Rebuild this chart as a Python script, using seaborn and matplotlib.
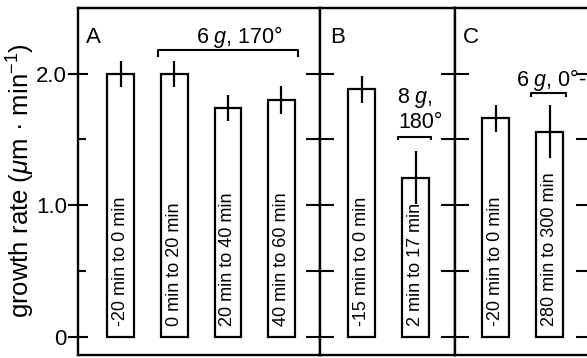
import matplotlib
matplotlib.use('Agg')
import matplotlib.pyplot as plt
import seaborn as sns
import pandas as pd
from matplotlib.ticker import FixedLocator, FixedFormatter, NullFormatter

sns.set_style('ticks')
plt.rcParams['font.family'] = ['Liberation Sans', 'DejaVu Sans']
plt.rcParams['mathtext.fontset'] = 'custom'
plt.rcParams['mathtext.rm'] = 'Liberation Sans'
plt.rcParams['mathtext.it'] = 'Liberation Sans:italic'
plt.rcParams['mathtext.sf'] = 'Liberation Sans'
plt.rcParams['mathtext.bf'] = 'Liberation Sans:bold'
for k in ('axes.edgecolor', 'xtick.color', 'ytick.color', 'text.color', 'axes.labelcolor'):
    plt.rcParams[k] = 'black'

# ---- data ----
labels_A = ['-20 min to 0 min', '0 min to 20 min', '20 min to 40 min', '40 min to 60 min']
values_A = [2.00, 2.00, 1.74, 1.80]
err_A = [0.10, 0.10, 0.10, 0.11]

labels_B = ['-15 min to 0 min', '2 min to 17 min']
values_B = [1.88, 1.21]
err_B = [0.10, 0.20]

labels_C = ['-20 min to 0 min', '280 min to 300 min']
values_C = [1.66, 1.56]
err_C = [0.10, 0.20]

yticks_major = [0, 1.0, 2.0]
ytick_labels = ['0', '1.0', '2.0']
yticks_minor = [0.5, 1.5]

W, H = 587, 358
fig = plt.figure(figsize=(W / 100, H / 100), dpi=100)


def px_axes(x0, x1, y0=8, y1=355):
    return fig.add_axes([x0 / W, 1 - y1 / H, (x1 - x0) / W, (y1 - y0) / H])


axA = px_axes(78, 320)
axB = px_axes(320, 455)
axC = px_axes(455, 590)


def draw(ax, labels, values, errs, xlim):
    df = pd.DataFrame({'period': labels, 'rate': values})
    sns.barplot(data=df, x='period', y='rate', ax=ax, width=0.5, color='white',
                edgecolor='black', linewidth=1.6, saturation=1, errorbar=None)
    ax.errorbar(range(len(values)), values, yerr=errs, fmt='none', ecolor='black',
                elinewidth=1.6, capsize=0, zorder=5)
    for i, lab in enumerate(labels):
        ax.text(i, 0.08, lab, rotation=90, ha='center', va='bottom', fontsize=13, zorder=6)
    ax.set_xlim(xlim)
    ax.set_ylim(-0.14, 2.5)
    ax.set_xticks([])
    ax.set_xlabel('')
    ax.set_ylabel('')
    for s in ax.spines.values():
        s.set_visible(True)
        s.set_linewidth(1.7)
        s.set_color('black')
    ax.yaxis.set_major_locator(FixedLocator(yticks_major))
    ax.yaxis.set_minor_locator(FixedLocator(yticks_minor))


draw(axA, labels_A, values_A, err_A, (-0.8, 3.72))
draw(axB, labels_B, values_B, err_B, (-0.77, 1.73))
draw(axC, labels_C, values_C, err_C, (-0.76, 1.75))

# ticks
axA.yaxis.set_major_formatter(FixedFormatter(ytick_labels))
axA.tick_params(axis='y', which='major', direction='inout', length=14, width=1.5,
                left=True, right=False, labelsize=16, pad=1, colors='black')
axA.tick_params(axis='y', which='minor', direction='in', length=6, width=1.5,
                left=True, right=False, colors='black')
for ax, right in ((axB, False), (axC, True)):
    ax.yaxis.set_major_formatter(NullFormatter())
    ax.tick_params(axis='y', which='both', direction='inout', length=20, width=1.5,
                   left=True, right=right, labelleft=False, labelright=False,
                   colors='black')

# panel letters
axA.text(-0.65, 2.236, 'A', fontsize=16, ha='left', va='baseline')
axB.text(-0.585, 2.236, 'B', fontsize=16, ha='left', va='baseline')
axC.text(-0.61, 2.236, 'C', fontsize=16, ha='left', va='baseline')

# condition annotations with brackets
def bracket(ax, x0, x1, y, d):
    ax.plot([x0, x0, x1, x1], [y - d, y, y, y - d], color='black', lw=1.5,
            solid_capstyle='butt', clip_on=False)

bracket(axA, 1 - 0.305, 3 + 0.31, 2.18, 0.05)
axA.text(2.22, 2.23, '6 $g$, 170°', fontsize=15.5, ha='center', va='baseline')

bracket(axB, 1 - 0.326, 1 + 0.28, 1.52, 0.025)
axB.text(0.656, 1.78, '8 $g$,', fontsize=15.5, ha='left', va='baseline')
axB.text(0.69, 1.59, '180°', fontsize=15.5, ha='left', va='baseline')

bracket(axC, 1 - 0.347, 1 + 0.31, 1.855, 0.03)
axC.text(0.378, 1.91, '6 $g$, 0°-', fontsize=15.5, ha='left', va='baseline')

fig.text(21 / W, 1 - 181 / H, 'growth rate ($\\mu$m · min$^{-1}$)', rotation=90,
         ha='center', va='center', fontsize=18.5)

fig.savefig('out.png', dpi=100)
